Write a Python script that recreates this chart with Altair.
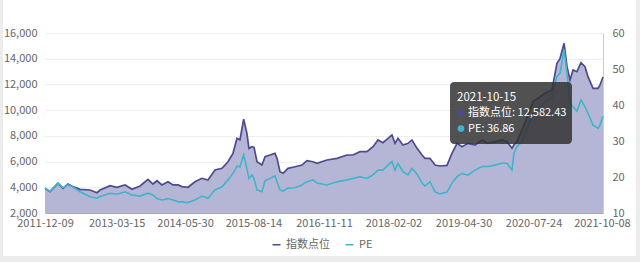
import altair as alt
import pandas as pd

dates = [
    "2011-12-09", "2012-01-10", "2012-03-02", "2012-04-03", "2012-05-05", "2012-06-07", "2012-07-22", "2012-09-24", "2012-11-08", "2012-11-28",
    "2013-01-31", "2013-03-17", "2013-05-08", "2013-06-22", "2013-08-13", "2013-10-03", "2013-11-04", "2013-11-30",
    "2014-01-01", "2014-02-09", "2014-03-13", "2014-04-15", "2014-05-10", "2014-06-18", "2014-08-02", "2014-09-16", "2014-10-25", "2014-12-09",
    "2015-01-23", "2015-03-03", "2015-04-04", "2015-04-30", "2015-05-19", "2015-06-12", "2015-07-03", "2015-07-16", "2015-08-05", "2015-08-18",
    "2015-09-06", "2015-10-08", "2015-10-28", "2015-11-29", "2015-12-31",
    "2016-01-13", "2016-02-01", "2016-02-21", "2016-03-24", "2016-05-08", "2016-06-22", "2016-07-24", "2016-09-01", "2016-09-27", "2016-11-30",
    "2017-02-03", "2017-04-08", "2017-05-17", "2017-07-01", "2017-08-15", "2017-09-23", "2017-10-25", "2017-11-26", "2017-12-29",
    "2018-01-23", "2018-02-12", "2018-03-03", "2018-04-04", "2018-05-07", "2018-06-01", "2018-07-04", "2018-08-05", "2018-08-24", "2018-09-25",
    "2018-10-28", "2018-11-29",
    "2019-01-13", "2019-02-14", "2019-03-19", "2019-04-20", "2019-05-28", "2019-07-13", "2019-08-27", "2019-10-04", "2019-11-19",
    "2020-01-03", "2020-02-04", "2020-03-07", "2020-03-20", "2020-04-08", "2020-05-11", "2020-06-18", "2020-07-21", "2020-08-22", "2020-10-06",
    "2020-11-20", "2020-12-22",
    "2021-01-11", "2021-02-06", "2021-02-25", "2021-03-16", "2021-04-05", "2021-04-30", "2021-05-26", "2021-06-21", "2021-07-10", "2021-08-12",
    "2021-09-13", "2021-09-26", "2021-10-15",
]

index_pts = [
    3921, 3660, 4310, 3920, 4255, 4050, 3840, 3790, 3580, 3790,
    4125, 4000, 4180, 3840, 4100, 4620, 4255, 4510,
    4180, 4430, 4180, 4180, 4050, 4000, 4430, 4700, 4570, 5345,
    5475, 5990, 6640, 7810, 7680, 9290, 8200, 7030, 7160, 7110, 5990, 5730, 6380, 6510, 6640,
    6250, 5210, 5090, 5475, 5600, 5730, 6070, 5990, 5865, 6120,
    6250, 6510, 6510, 6770, 6770, 7160, 7680, 7470, 7810,
    8070, 7420, 7810, 7290, 7420, 7680, 7030, 6510, 6250, 6250, 5730, 5655,
    5700, 6640, 7420, 7160, 7420, 7290, 7680, 7420, 7550,
    7680, 7550, 7030, 7300, 7550, 8460, 9620, 10660, 10920, 11310, 11570, 13640,
    14030, 15200, 13380, 12340, 13120, 12990, 13690, 13380, 12600, 11700, 11700, 11960, 12582.43,
]

pe = [
    16.9, 16.0, 18.3, 17.0, 17.8, 17.2, 15.9, 14.5, 14.1, 14.6,
    15.5, 15.2, 15.9, 15.0, 14.7, 15.5, 15.0, 14.0,
    13.6, 14.0, 13.6, 13.1, 13.1, 12.9, 13.6, 14.7, 14.1, 16.4,
    17.3, 19.2, 21.0, 23.0, 22.8, 26.1, 22.4, 19.6, 20.6, 19.5, 16.4, 15.9, 19.0, 19.6, 20.3,
    18.7, 16.4, 16.1, 16.9, 17.0, 17.8, 18.7, 19.2, 18.3, 17.8,
    18.7, 19.2, 19.6, 20.1, 19.6, 20.6, 21.9, 21.9, 23.3,
    24.3, 21.9, 23.8, 21.5, 20.6, 22.4, 20.8, 18.3, 17.5, 18.7, 15.9, 15.3,
    15.8, 18.3, 20.1, 21.0, 20.5, 21.9, 22.9, 22.9, 23.3,
    23.8, 23.8, 21.9, 26.6, 28.4, 29.8, 34.0, 37.7, 38.5, 40.9, 42.0, 47.9,
    48.8, 55.3, 48.8, 40.5, 39.5, 38.3, 41.4, 39.5, 37.7, 34.4, 33.5, 34.5, 36.86,
]

x_tick_dates = ["2011-12-09", "2013-03-15", "2014-05-30", "2015-08-14", "2016-11-11",
                "2018-02-02", "2019-04-30", "2020-07-24", "2021-10-08"]
left_ticks = [2000, 4000, 6000, 8000, 10000, 12000, 14000, 16000]
right_ticks = [10, 20, 30, 40, 50, 60]
series_names = ["指数点位", "PE"]
series_colors = ["#4d4b8e", "#3fb4ca"]
area_color = "#b5b6d6"
tooltip_date = "2021-10-15"

FONT = "Noto Sans CJK SC"

df = pd.DataFrame({"date": dates, "idx": index_pts, "pe": pe})


def dt(s):
    y, m, d = map(int, s.split("-"))
    return alt.DateTime(year=y, month=m, date=d, utc=True)


x_enc = alt.X(
    "date:T",
    scale=alt.Scale(type="utc", domain=[dt(dates[0]), dt(dates[-1])]),
    axis=alt.Axis(values=[dt(s) for s in x_tick_dates],
                  labelExpr="utcFormat(datum.value, '%Y-%m-%d')",
                  labelColor="#666666", labelFontSize=11, labelFont=FONT, ticks=False,
                  domainColor="#aaaaaa", grid=False, labelPadding=4, labelOverlap=False,
                  labelFlush=False),
    title=None,
)

y_left = alt.Y(
    "idx:Q",
    scale=alt.Scale(domain=[2000, 16000], zero=False, nice=False),
    axis=alt.Axis(values=left_ticks, labelExpr="format(datum.value, ',')",
                  grid=True, gridColor="#eeeeee", domain=False,
                  ticks=False, labelColor="#666666", labelFontSize=11, labelFont=FONT,
                  labelPadding=8, orient="left"),
    title=None,
)

y_right = alt.Y(
    "pe:Q",
    scale=alt.Scale(domain=[10, 60], zero=False, nice=False),
    axis=alt.Axis(values=right_ticks, grid=False, domain=True, domainColor="#cccccc",
                  ticks=False, labelColor="#666666", labelFontSize=11, labelFont=FONT,
                  labelPadding=9, orient="right"),
    title=None,
)

stroke_scale = alt.Scale(domain=series_names, range=series_colors)
legend = alt.Legend(orient="none", legendX=226, legendY=206, direction="horizontal", title=None,
                    symbolType="stroke", symbolSize=64, symbolStrokeWidth=1.5,
                    labelFontSize=11, labelColor="#666666", labelFont=FONT, columnPadding=12)

base = alt.Chart(df)
idx_area = base.mark_area(color=area_color, opacity=1, clip=True).encode(x=x_enc, y=y_left)
idx_line = base.mark_line(strokeWidth=1.7).transform_calculate(
    series=f"'{series_names[0]}'"
).encode(
    x=x_enc, y=y_left,
    stroke=alt.Stroke("series:N", scale=stroke_scale, legend=legend),
)
pe_line = base.mark_line(strokeWidth=1.6).transform_calculate(
    series=f"'{series_names[1]}'"
).encode(
    x=x_enc, y=y_right,
    stroke=alt.Stroke("series:N", scale=stroke_scale, legend=legend),
)

idx_layer = alt.layer(idx_area, idx_line)

dummy = alt.Chart(pd.DataFrame({"a": [0]}))
# light-grey card edges (left, right, bottom)
edge_left = dummy.mark_rect(color="#ececec").encode(
    x=alt.value(-45), x2=alt.value(-42), y=alt.value(-33), y2=alt.value(229))
edge_right = dummy.mark_rect(color="#ececec").encode(
    x=alt.value(591), x2=alt.value(595), y=alt.value(-33), y2=alt.value(229))
edge_bottom = dummy.mark_rect(color="#ececec").encode(
    x=alt.value(-45), x2=alt.value(595), y=alt.value(223), y2=alt.value(229))

tip_box = dummy.mark_rect(color="#333333", opacity=0.85, cornerRadius=4).encode(
    x=alt.value(405), x2=alt.value(527), y=alt.value(49), y2=alt.value(111))
tip_title = dummy.mark_text(text=tooltip_date, color="white", fontSize=11.5, font=FONT,
                            align="left", baseline="middle").encode(
    x=alt.value(412), y=alt.value(65))
tip_dot1 = dummy.mark_circle(color=series_colors[0], size=45, opacity=1).encode(
    x=alt.value(416), y=alt.value(80))
tip_dot2 = dummy.mark_circle(color=series_colors[1], size=45, opacity=1).encode(
    x=alt.value(416), y=alt.value(95.5))
tip_t1 = dummy.mark_text(text=f"{series_names[0]}: {index_pts[-1]:,.2f}", color="white",
                         fontSize=11, font=FONT, align="left", baseline="middle").encode(
    x=alt.value(423), y=alt.value(80))
tip_t2 = dummy.mark_text(text=f"{series_names[1]}: {pe[-1]:.2f}", color="white",
                         fontSize=11, font=FONT, align="left", baseline="middle").encode(
    x=alt.value(423), y=alt.value(95.5))

chart = alt.layer(
    idx_layer, pe_line, tip_box, tip_title, tip_dot1, tip_dot2, tip_t1, tip_t2,
    edge_left, edge_right, edge_bottom
).resolve_scale(y="independent").properties(
    width=558, height=180,
    autosize=alt.AutoSizeParams(type="none"),
    padding={"left": 45, "top": 33, "right": 37, "bottom": 49},
    background="white",
).configure_view(stroke=None)

chart.save("out.html", embed_options={"renderer": "svg", "actions": False})
